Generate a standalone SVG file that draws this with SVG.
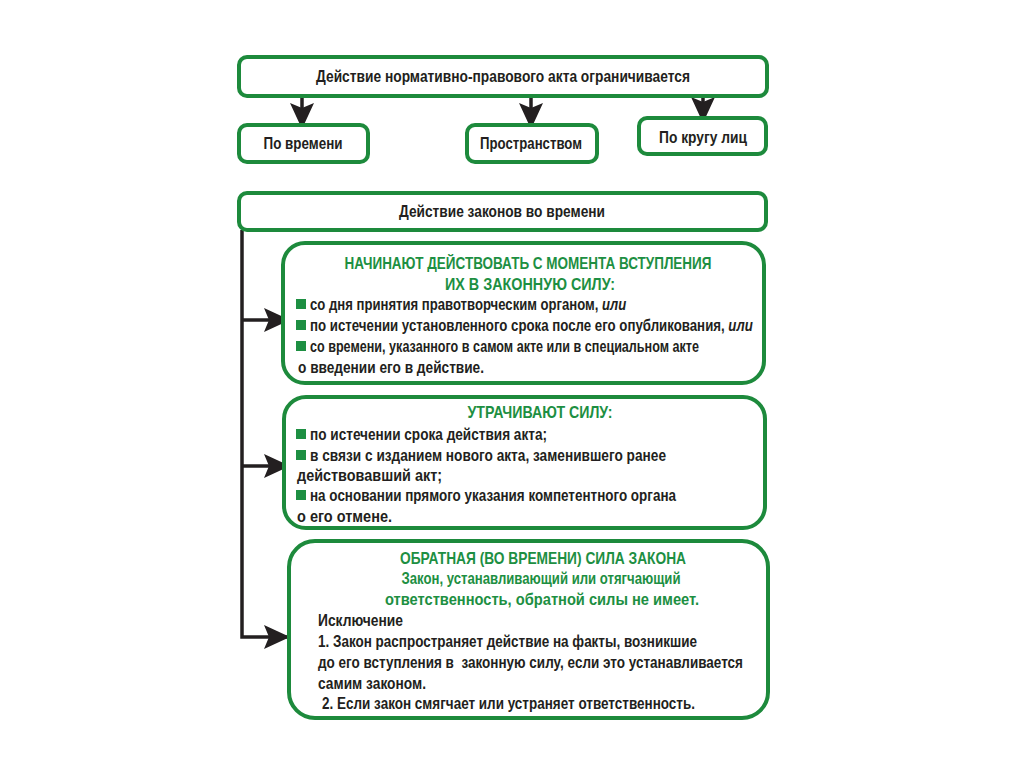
<svg xmlns="http://www.w3.org/2000/svg" width="1024" height="767" viewBox="0 0 1024 767">
<style>
.box{fill:#fff;stroke:#1d8a3c;stroke-width:4}
.t{font-family:"Liberation Sans Narrow","Liberation Sans",Arial,sans-serif;font-weight:bold;font-size:17px;fill:#231f20}
.g{fill:#1d8f42}
.c{text-anchor:middle}
.i{font-style:italic}
.conn{fill:none;stroke:#231f20;stroke-width:3.5}
.bul{fill:#1d8f42}
</style>
<defs>
<marker id="ah" viewBox="0 0 26 24" refX="26" refY="12" markerWidth="26" markerHeight="24" markerUnits="userSpaceOnUse" orient="auto">
<path d="M0,0 L26,12 L0,24 L5,12 Z" fill="#231f20"/>
</marker>
</defs>
<rect width="1024" height="767" fill="#fff"/>

<g id="connectors">
<line class="conn" x1="302" y1="96" x2="302" y2="129" marker-end="url(#ah)"/>
<line class="conn" x1="531" y1="96" x2="531" y2="129" marker-end="url(#ah)"/>
<line class="conn" x1="703" y1="96" x2="703" y2="123" marker-end="url(#ah)"/>
<path class="conn" d="M242,230 V637 H290" marker-end="url(#ah)"/>
<line class="conn" x1="242" y1="320" x2="290" y2="320" marker-end="url(#ah)"/>
<line class="conn" x1="242" y1="466" x2="290" y2="466" marker-end="url(#ah)"/>
</g>

<g id="node-top">
<rect class="box" x="239" y="57" width="528" height="39" rx="8"/>
<text class="t c" x="503" y="82" textLength="374" lengthAdjust="spacingAndGlyphs">Действие нормативно-правового акта ограничивается</text>
</g>

<g id="node-time">
<rect class="box" x="239" y="125" width="129" height="37" rx="8"/>
<text class="t c" x="303" y="149" textLength="79" lengthAdjust="spacingAndGlyphs">По времени</text>
</g>

<g id="node-space">
<rect class="box" x="467" y="125" width="130" height="37" rx="8"/>
<text class="t c" x="531" y="149" textLength="102" lengthAdjust="spacingAndGlyphs">Пространством</text>
</g>

<g id="node-persons">
<rect class="box" x="639" y="118" width="127" height="36" rx="8"/>
<text class="t c" x="703" y="143" textLength="88" lengthAdjust="spacingAndGlyphs">По кругу лиц</text>
</g>

<g id="node-laws-time">
<rect class="box" x="239" y="193" width="527" height="37" rx="8"/>
<text class="t c" x="502" y="217" textLength="206" lengthAdjust="spacingAndGlyphs">Действие законов во времени</text>
</g>

<g id="node-start">
<rect class="box" x="283" y="243" width="481" height="140" rx="22"/>
<text class="t g c" x="528" y="269" textLength="367" lengthAdjust="spacingAndGlyphs">НАЧИНАЮТ ДЕЙСТВОВАТЬ С МОМЕНТА ВСТУПЛЕНИЯ</text>
<text class="t g c" x="530" y="290" textLength="170" lengthAdjust="spacingAndGlyphs">ИХ В ЗАКОННУЮ СИЛУ:</text>
<rect class="bul" x="296" y="299" width="10" height="10"/>
<text class="t" transform="translate(310,310) scale(0.772,1)">со дня принятия правотворческим органом, <tspan class="i">или</tspan></text>
<rect class="bul" x="296" y="320" width="10" height="10"/>
<text class="t" transform="translate(310,331) scale(0.78,1)">по истечении установленного срока после его опубликования, <tspan class="i">или</tspan></text>
<rect class="bul" x="296" y="341" width="10" height="10"/>
<text class="t" x="310" y="352" textLength="389" lengthAdjust="spacingAndGlyphs">со времени, указанного в самом акте или в специальном акте</text>
<text class="t" x="298" y="373" textLength="186" lengthAdjust="spacingAndGlyphs">о введении его в действие.</text>
</g>

<g id="node-lose">
<rect class="box" x="284" y="397" width="481" height="131" rx="22"/>
<text class="t g c" x="540" y="418" textLength="145" lengthAdjust="spacingAndGlyphs">УТРАЧИВАЮТ СИЛУ:</text>
<rect class="bul" x="296" y="429" width="10" height="10"/>
<text class="t" x="310" y="440" textLength="237" lengthAdjust="spacingAndGlyphs">по истечении срока действия акта;</text>
<rect class="bul" x="296" y="450" width="10" height="10"/>
<text class="t" x="310" y="461" textLength="356" lengthAdjust="spacingAndGlyphs">в связи с изданием нового акта, заменившего ранее</text>
<text class="t" x="297" y="481" textLength="145" lengthAdjust="spacingAndGlyphs">действовавший акт;</text>
<rect class="bul" x="296" y="490" width="10" height="10"/>
<text class="t" x="310" y="501" textLength="366" lengthAdjust="spacingAndGlyphs">на основании прямого указания компетентного органа</text>
<text class="t" x="297" y="522" textLength="95" lengthAdjust="spacingAndGlyphs">о его отмене.</text>
</g>

<g id="node-retro">
<rect class="box" x="289" y="541" width="479" height="177" rx="26"/>
<text class="t g c" x="543" y="564" textLength="286" lengthAdjust="spacingAndGlyphs">ОБРАТНАЯ (ВО ВРЕМЕНИ) СИЛА ЗАКОНА</text>
<text class="t g c" x="541" y="584" textLength="279" lengthAdjust="spacingAndGlyphs">Закон, устанавливающий или отягчающий</text>
<text class="t g c" x="542" y="605" textLength="314" lengthAdjust="spacingAndGlyphs">ответственность, обратной силы не имеет.</text>
<text class="t" x="318" y="626" textLength="85" lengthAdjust="spacingAndGlyphs">Исключение</text>
<text class="t" x="318" y="647" textLength="379" lengthAdjust="spacingAndGlyphs">1. Закон распространяет действие на факты, возникшие</text>
<text class="t" x="318" y="668" textLength="425" lengthAdjust="spacingAndGlyphs" xml:space="preserve">до его вступления в  законную силу, если это устанавливается</text>
<text class="t" x="318" y="689" textLength="108" lengthAdjust="spacingAndGlyphs">самим законом.</text>
<text class="t" x="322" y="709" textLength="373" lengthAdjust="spacingAndGlyphs">2. Если закон смягчает или устраняет ответственность.</text>
</g>
</svg>
